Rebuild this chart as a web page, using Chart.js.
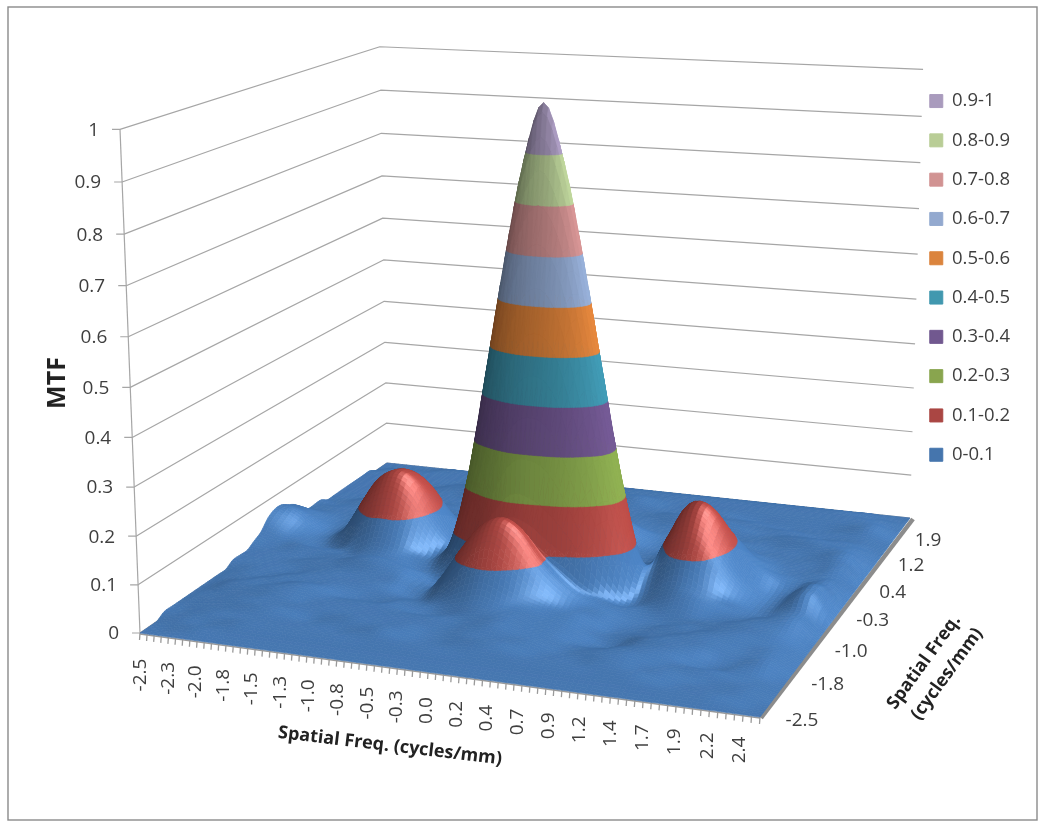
<!DOCTYPE html>
<html><head><meta charset="utf-8">
<style>html,body{margin:0;padding:0;background:#fff}#w{width:1050px;height:834px}canvas{filter:blur(.5px)}</style>
<script src="https://cdn.jsdelivr.net/npm/chart.js@4/dist/chart.umd.min.js"></script>
</head><body><div id="w"><canvas id="c" width="1050" height="834"></canvas></div>
<script>
const bandLabels=['0-0.1','0.1-0.2','0.2-0.3','0.3-0.4','0.4-0.5','0.5-0.6','0.6-0.7','0.7-0.8','0.8-0.9','0.9-1'];
const zTickLabels=['0','0.1','0.2','0.3','0.4','0.5','0.6','0.7','0.8','0.9','1'];
const xTickLabels=['-2.5','-2.3','-2.0','-1.8','-1.5','-1.3','-1.0','-0.8','-0.5','-0.3','0.0','0.2','0.4','0.7','0.9','1.2','1.4','1.7','1.9','2.2','2.4'];
const yTickLabels=['-2.5','-1.8','-1.0','-0.3','0.4','1.2','1.9'];
// MTF x 100, front row (y=-2.5) first, each row runs x=-2.5 .. 2.4
const mtfPercent=[
[0,0,0,0,0,0,0,0,0,0,0,0,0,0,0,0,0,0,0,0,0,0,0,0,0,0,0,0,0,0,0,0],
[0,0,1,1,1,1,1,1,1,1,1,1,1,1,1,1,1,1,1,1,1,1,1,1,1,1,1,1,1,1,0,0],
[0,1,1,1,2,2,2,2,2,2,2,2,2,2,2,2,2,2,2,2,2,2,2,2,2,2,1,1,1,1,1,0],
[1,1,2,2,2,2,2,2,2,2,2,3,3,2,2,2,3,3,3,2,2,2,2,3,2,2,2,1,1,1,1,0],
[1,1,2,2,3,3,3,2,2,3,3,3,3,3,2,3,3,3,3,3,2,2,3,3,3,2,2,2,2,1,1,0],
[1,2,2,3,3,3,3,3,3,3,3,3,3,3,3,3,4,4,3,3,2,2,2,3,3,3,2,1,1,2,1,0],
[1,2,2,3,3,4,3,3,3,3,3,3,3,3,3,3,4,4,3,3,2,1,1,2,3,3,3,2,1,2,2,0],
[1,2,3,3,4,4,4,3,3,3,3,3,2,2,3,4,4,4,3,3,2,1,0,2,3,3,3,3,2,2,2,0],
[1,2,3,3,3,4,4,3,2,2,2,3,2,3,4,5,4,4,3,3,2,1,1,2,2,3,3,3,2,2,2,0],
[1,2,2,3,3,3,3,3,2,2,2,2,2,5,8,9,7,5,4,3,3,1,1,1,2,2,3,3,3,2,2,0],
[1,2,2,2,3,3,3,3,3,3,2,1,3,9,13,15,12,8,5,3,3,2,1,1,2,2,2,3,3,3,2,0],
[1,2,2,2,2,3,3,3,3,3,3,1,5,11,16,18,16,11,7,4,3,2,1,1,1,2,2,3,3,3,2,0],
[2,2,2,2,2,3,3,4,4,4,3,1,5,11,16,18,16,11,7,4,3,2,2,2,3,2,2,2,3,3,3,0],
[2,2,2,2,3,3,4,5,5,4,3,1,3,9,14,17,16,13,10,6,3,1,2,4,5,4,3,2,2,3,3,0],
[2,2,2,2,2,3,3,4,4,3,2,3,8,19,32,43,46,43,32,19,8,2,3,6,6,4,3,2,1,3,3,0],
[3,2,3,3,3,3,4,6,5,4,3,6,19,38,58,74,80,74,58,38,19,5,6,10,11,8,4,2,1,4,5,0],
[4,3,3,2,2,4,9,10,9,5,3,8,23,46,69,89,100,89,69,46,23,7,8,14,14,10,5,2,1,4,5,0],
[6,4,3,2,3,8,13,15,13,8,4,6,19,38,58,74,80,74,58,38,19,5,10,17,17,12,6,2,1,4,5,0],
[7,5,3,2,4,10,16,18,16,10,5,3,8,19,32,43,46,43,32,19,8,4,11,18,18,13,6,2,1,3,4,0],
[7,6,3,2,4,11,16,18,16,11,5,3,3,5,9,14,15,14,9,5,3,4,10,17,17,12,6,3,1,3,3,0],
[6,5,3,2,4,10,15,17,15,10,5,3,2,2,3,3,3,3,3,2,2,3,8,14,14,10,5,3,2,2,3,0],
[5,4,2,2,3,8,13,15,13,8,4,2,2,2,3,4,5,4,3,2,2,3,6,10,11,8,4,2,2,2,2,0],
[3,3,2,2,3,5,9,10,9,5,3,2,2,3,4,6,7,6,4,3,2,3,5,7,7,5,3,2,2,2,3,0],
[2,2,2,2,3,3,6,6,6,3,3,2,2,3,6,9,10,9,6,3,2,2,3,4,5,4,2,2,2,2,3,0],
[2,2,2,2,2,3,3,3,3,3,2,2,2,3,6,10,12,10,6,3,2,2,3,3,3,2,2,2,2,3,3,0],
[2,1,2,2,2,2,3,3,3,2,2,2,2,3,5,8,10,8,5,3,2,2,2,3,3,2,2,2,2,3,3,0],
[1,1,2,2,2,2,2,3,2,2,2,2,2,2,3,5,6,5,3,2,2,2,2,2,2,2,2,3,3,3,2,0],
[1,1,1,2,2,2,2,2,2,2,2,2,2,2,2,3,3,3,2,2,2,2,2,2,2,2,3,3,3,2,2,0],
[1,1,1,1,2,2,2,2,2,2,2,2,2,2,2,2,2,2,2,2,3,3,3,3,2,2,2,2,2,2,1,0],
[1,1,1,1,1,2,2,2,3,3,3,2,2,2,2,2,2,2,2,3,3,3,3,2,2,2,2,1,1,1,1,0],
[1,1,1,1,1,2,2,3,3,3,3,3,2,2,2,2,2,2,2,2,2,2,2,2,2,1,1,1,1,1,1,0],
[1,1,1,1,1,1,2,2,3,3,3,2,2,2,2,2,3,3,2,2,2,2,2,1,1,1,1,1,1,2,2,0],
[1,1,1,1,1,1,1,2,2,2,2,2,2,2,3,3,3,3,2,2,2,2,2,2,2,2,2,2,2,2,2,0],
[1,1,1,1,1,1,1,1,1,1,2,2,2,2,2,2,2,2,2,2,2,2,2,2,2,2,2,2,2,2,1,0],
[0,1,1,1,1,1,1,1,1,1,1,1,1,1,1,2,2,2,2,2,2,2,2,2,2,2,2,2,2,1,1,0],
[0,0,0,0,1,1,1,1,1,1,1,1,1,1,1,1,1,1,1,1,1,1,1,1,1,1,1,1,1,1,0,0],
[0,0,0,0,0,0,0,0,0,0,0,0,0,0,0,0,0,0,0,0,0,0,0,0,0,0,0,0,0,0,0,0]
];

const bandColors=[[74,126,187],[184,76,71],[140,172,80],[114,88,146],[64,152,178],[224,132,60],[148,172,212],[210,146,146],[186,208,152],[170,155,192]];
const legendColors=['#4575ad','#aa4643','#89a54e','#71588f','#4198af','#db843d','#93a9cf','#d19392','#b9cd96','#a99bbd'];
const TEXT='#3f3f3f', FONT='"Open Sans"', W=1050, H=834;
const NR=mtfPercent.length, NC=mtfPercent[0].length, SUB=4;

// perspective box: floor corners in page units
const F0=[140,633],F1=[760,717],F2=[910,518],F3=[387,463];
const s0=F0[0]-F1[0]+F2[0]-F3[0], s1=F0[1]-F1[1]+F2[1]-F3[1];
const d1x=F1[0]-F2[0],d1y=F1[1]-F2[1],d2x=F3[0]-F2[0],d2y=F3[1]-F2[1],den=d1x*d2y-d1y*d2x;
const hg=(s0*d2y-s1*d2x)/den, hh=(d1x*s1-d1y*s0)/den;
const ha=F1[0]-F0[0]+hg*F1[0],hb=F3[0]-F0[0]+hh*F3[0],hd=F1[1]-F0[1]+hg*F1[1],he=F3[1]-F0[1]+hh*F3[1];
function heightT(z){return z/(z+(1-z)*1.05);}
function project(u,v,z){
  const w=hg*u+hh*v+1, bx=(ha*u+hb*v+F0[0])/w, by=(hd*u+he*v+F0[1])/w;
  const dx=bx-582, dy=by-11770, len=Math.hypot(dx,dy), k=504/w*heightT(z);
  return {x:bx+dx/len*k, y:H-(by+dy/len*k)};
}
function catmull(a,b,c,d,t){return .5*(2*b+(c-a)*t+(2*a-5*b+4*c-d)*t*t+(3*b-a-3*c+d)*t*t*t);}
function at(r,c){r=Math.max(0,Math.min(NR-1,r));c=Math.max(0,Math.min(NC-1,c));return mtfPercent[r][c]/100;}
function sampleZ(r,c){
  const r0=Math.min(NR-2,Math.floor(r)),c0=Math.min(NC-2,Math.floor(c)),tr=r-r0,tc=c-c0,col=[];
  for(let i=-1;i<=2;i++)col.push(catmull(at(r0+i,c0-1),at(r0+i,c0),at(r0+i,c0+1),at(r0+i,c0+2),tc));
  return Math.max(0,Math.min(1,catmull(col[0],col[1],col[2],col[3],tr)));
}
function bandOf(z){return Math.max(0,Math.min(9,Math.floor(z*10)));}
const bandData=bandLabels.map(()=>[]);
mtfPercent.forEach((row,r)=>row.forEach((p,c)=>{const z=p/100;bandData[bandOf(z)].push(project(c/(NC-1),r/(NR-1),z));}));

function clip(poly,level,above){
  const out=[];
  for(let i=0;i<poly.length;i++){
    const a=poly[i],b=poly[(i+1)%poly.length],ia=above?a[2]>=level:a[2]<=level,ib=above?b[2]>=level:b[2]<=level;
    if(ia)out.push(a);
    if(ia!==ib){const t=(level-a[2])/(b[2]-a[2]);out.push([a[0]+(b[0]-a[0])*t,a[1]+(b[1]-a[1])*t,level]);}
  }
  return out;
}
const surfacePlugin={id:'surface',
  afterLayout(chart){
    const a=chart.chartArea,xs=chart.scales.x,ys=chart.scales.y;
    xs.min=a.left;xs.max=a.right;xs.configure();
    ys.min=H-a.bottom;ys.max=H-a.top;ys.configure();
  },
  beforeDatasetsDraw(chart){
    const ctx=chart.ctx,xs=chart.scales.x,ys=chart.scales.y;
    const P=(u,v,z)=>{const p=project(u,v,z);return [xs.getPixelForValue(p.x),ys.getPixelForValue(p.y)];};
    ctx.save();
    // walls
    ctx.strokeStyle='#a6a6a6';ctx.lineWidth=1.2;ctx.lineJoin='round';
    zTickLabels.forEach(t=>{
      const z=+t,a=P(0,0,z),b=P(0,1,z),c=P(1,1,z);
      ctx.beginPath();ctx.moveTo(a[0]-8,a[1]);ctx.lineTo(a[0],a[1]);ctx.lineTo(b[0],b[1]);ctx.lineTo(c[0],c[1]);ctx.stroke();
    });
    {const a=P(0,0,0),b=P(0,0,1);ctx.beginPath();ctx.moveTo(a[0],a[1]);ctx.lineTo(b[0],b[1]);ctx.stroke();}
    // floor axes
    ctx.strokeStyle='#9a9a9a';ctx.lineWidth=1.5;
    {const a=P(0,0,0),b=P(1,0,0);ctx.beginPath();ctx.moveTo(a[0],a[1]+1);ctx.lineTo(b[0],b[1]+1);ctx.stroke();}
    ctx.lineWidth=1.3;
    for(let i=0;i<=80;i++){const a=P(i/80,0,0);ctx.beginPath();ctx.moveTo(a[0],a[1]);ctx.lineTo(a[0]-.5,a[1]+7);ctx.stroke();}
    {const a=P(1,0,0),b=P(1,1,0);ctx.strokeStyle='#8c8c8c';ctx.lineWidth=4.5;ctx.lineCap='butt';ctx.beginPath();ctx.moveTo(a[0]+1,a[1]+1);ctx.lineTo(b[0]+3,b[1]+1);ctx.stroke();}
    // surface
    const rows=(NR-1)*SUB,cols=(NC-1)*SUB,Z=[],PX=[];
    for(let i=0;i<=rows;i++){Z.push(new Float64Array(cols+1));PX.push(new Array(cols+1));
      for(let j=0;j<=cols;j++){const z=sampleZ(i/SUB,j/SUB);Z[i][j]=z;PX[i][j]=P(j/cols,i/rows,z);}}
    const zz=(i,j)=>Z[Math.max(0,Math.min(rows,i))][Math.max(0,Math.min(cols,j))];
    ctx.lineWidth=.7;ctx.lineJoin='round';
    const fillPoly=(poly,col)=>{if(poly.length<3)return;ctx.fillStyle=col;ctx.strokeStyle=col;ctx.beginPath();ctx.moveTo(poly[0][0],poly[0][1]);for(let k=1;k<poly.length;k++)ctx.lineTo(poly[k][0],poly[k][1]);ctx.closePath();ctx.fill();ctx.stroke();};
    for(let i=rows-1;i>=0;i--)for(let j=0;j<cols;j++){
      let sx=(zz(i,j+SUB)+zz(i+1,j+SUB)-zz(i,j-SUB)-zz(i+1,j-SUB))/4/.03;
      let sy=(zz(i+SUB,j)+zz(i+SUB,j+1)-zz(i-SUB,j)-zz(i-SUB,j+1))/4/.024;
      const S=Math.hypot(sx,sy),f=Math.min(1,.65+S/1.2);sx*=f;sy*=f;
      const L=Math.hypot(sx,sy,1),nx=-sx/L,ny=-sy/L,nz=1/L;
      const light=.70+.40*(nx*.75+ny*-.1+nz*.6);
      const hv=Math.max(0,nx*.6+ny*-.45+nz*.66);
      const sp=Math.pow(hv,30)*.5, spRed=Math.pow(hv,16)*.7;
      const mk=b=>{const c=bandColors[b],s=b===1?spRed:sp;return 'rgb('+c.map(v=>Math.min(255,Math.round(v*light+s*110))).join(',')+')';};
      const q=[[PX[i][j],Z[i][j]],[PX[i][j+1],Z[i][j+1]],[PX[i+1][j+1],Z[i+1][j+1]],[PX[i+1][j],Z[i+1][j]]].map(e=>[e[0][0],e[0][1],e[1]]);
      const zs=q.map(e=>e[2]),lo=bandOf(Math.min(...zs)),hi=bandOf(Math.max(...zs));
      if(lo===hi){fillPoly(q,mk(lo));continue;}
      for(const tri of [[q[0],q[1],q[2]],[q[0],q[2],q[3]]])for(let b=lo;b<=hi;b++){
        let p=clip(tri,b/10,true);if(p.length)p=clip(p,(b+1)/10,false);fillPoly(p,mk(b));
      }
    }
    // text
    ctx.fillStyle=TEXT;ctx.textBaseline='middle';
    ctx.font='19px '+FONT;ctx.textAlign='right';
    zTickLabels.forEach(t=>{const a=P(0,0,+t);ctx.fillText(t,a[0]-21,a[1]+1);});
    ctx.textAlign='center';
    xTickLabels.forEach((t,i)=>{const u=i/(xTickLabels.length-1),a=P(u,0,0);
      ctx.save();ctx.translate(a[0]+1-21*u,a[1]+42-9*u);ctx.rotate(-Math.PI/2);ctx.fillText(t,0,0);ctx.restore();});
    yTickLabels.forEach((t,i)=>{const v=i/(yTickLabels.length-1),a=P(1,v,0);ctx.fillText(t,a[0]+42-24*v,a[1]+4+19*v);});
    ctx.fillStyle='#222';
    const tilt=(s,x,y,ang,f)=>{ctx.save();ctx.translate(x,y);ctx.rotate(ang);ctx.font=f;ctx.fillText(s,0,0);ctx.restore();};
    tilt('Spatial Freq. (cycles/mm)',390,746,6.8*Math.PI/180,'bold 18px '+FONT);
    tilt('Spatial Freq.',924,662,-54*Math.PI/180,'bold 18px '+FONT);
    tilt('(cycles/mm)',947,674,-54*Math.PI/180,'bold 18px '+FONT);
    tilt('MTF',58,383,-Math.PI/2,'bold 25px '+FONT);
    ctx.restore();
  }
};
const framePlugin={id:'frame',beforeDraw(chart){const c=chart.ctx;c.save();c.fillStyle='#fff';c.fillRect(0,0,W,H);c.strokeStyle='#8a8a8a';c.lineWidth=1.4;c.strokeRect(8,7,1029,813);c.restore();}};

new Chart(document.getElementById('c'),{
  type:'scatter',
  data:{datasets:bandLabels.map((l,i)=>({label:l,data:bandData[i],backgroundColor:legendColors[i],borderColor:legendColors[i],pointRadius:0,showLine:false}))},
  options:{responsive:false,animation:false,
    layout:{padding:{top:71,right:30,bottom:0,left:0}},
    scales:{x:{type:'linear',display:false,min:0,max:W},y:{type:'linear',display:false,min:0,max:H}},
    plugins:{title:{display:false},tooltip:{enabled:false},
      legend:{position:'right',align:'start',reverse:true,
        labels:{boxWidth:13,boxHeight:13,padding:20.8,color:TEXT,font:{family:FONT,size:18.5}}}}},
  plugins:[framePlugin,surfacePlugin]
});
</script></body></html>
